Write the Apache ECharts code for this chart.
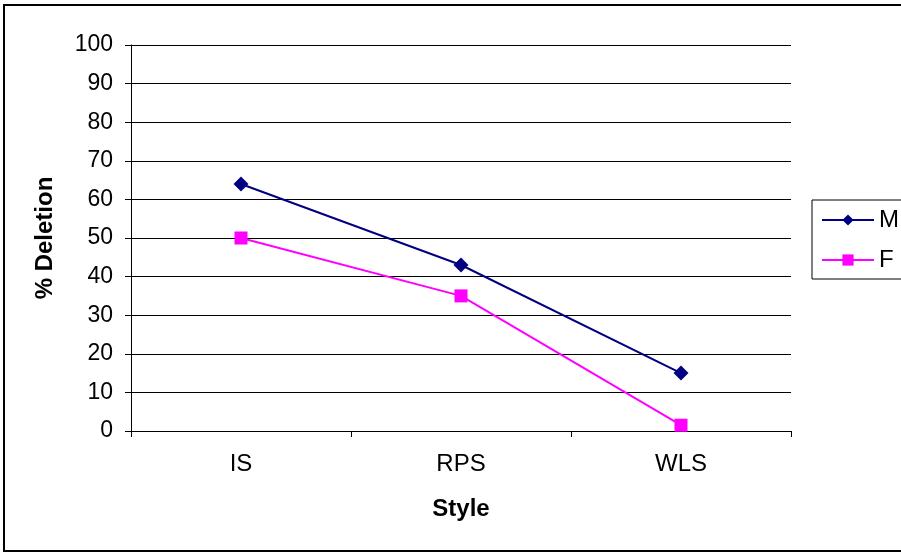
<!DOCTYPE html>
<html>
<head>
<meta charset="utf-8">
<style>
  html, body { margin: 0; padding: 0; background: #fff; }
  #chart { width: 901px; height: 555px; }
</style>
<script src="https://cdn.jsdelivr.net/npm/echarts@6/dist/echarts.min.js"></script>
</head>
<body>
<div id="chart"></div>
<script>
// Deletion rate by speaking style, split by sex
const styles = ['IS', 'RPS', 'WLS'];
const maleValues = [64, 43, 15];
const femaleValues = [50, 35, 1.5];
const yTicks = [0, 10, 20, 30, 40, 50, 60, 70, 80, 90, 100];

const FONT = '"Liberation Sans", Arial, sans-serif';

const chart = echarts.init(document.getElementById('chart'), null, { renderer: 'canvas' });

chart.setOption({
  animation: false,
  backgroundColor: '#fff',
  textStyle: { fontFamily: FONT },
  graphic: [{
    type: 'rect',
    shape: { x: 4, y: 5, width: 910, height: 546 },
    style: { fill: 'none', stroke: '#000', lineWidth: 2 },
    silent: true
  }],
  grid: { left: 131, top: 45, width: 660, height: 386 },
  legend: {
    orient: 'vertical',
    left: 812,
    top: 200,
    padding: [8, 40, 7, 9],
    borderColor: '#000',
    borderWidth: 1,
    itemWidth: 52,
    itemHeight: 14,
    itemGap: 16,
    textStyle: { fontFamily: FONT, fontSize: 24, color: '#000' },
    data: ['M', 'F']
  },
  xAxis: {
    type: 'category',
    data: styles,
    boundaryGap: true,
    name: 'Style',
    nameLocation: 'middle',
    nameGap: 66,
    nameTextStyle: { fontFamily: FONT, fontSize: 24, fontWeight: 'bold', color: '#000' },
    axisLine: { lineStyle: { color: '#000', width: 1 } },
    axisTick: { show: true, length: 6, lineStyle: { color: '#000' } },
    axisLabel: { fontFamily: FONT, fontSize: 24, color: '#000', margin: 21 },
    splitLine: { show: false }
  },
  yAxis: {
    type: 'value',
    min: 0,
    max: 100,
    interval: 10,
    name: '% Deletion',
    nameLocation: 'middle',
    nameGap: 74,
    nameRotate: 90,
    nameTextStyle: { fontFamily: FONT, fontSize: 24, fontWeight: 'bold', color: '#000' },
    axisLine: { show: true, lineStyle: { color: '#000', width: 1 } },
    axisTick: { show: true, length: 6, lineStyle: { color: '#000' } },
    axisLabel: {
      fontFamily: FONT, fontSize: 23, color: '#000', margin: 18,
      formatter: v => (yTicks.includes(v) ? String(v) : '')
    },
    splitLine: { show: true, lineStyle: { color: '#000', width: 1 } }
  },
  series: [
    {
      name: 'M',
      type: 'line',
      data: maleValues,
      symbol: 'diamond',
      symbolSize: 15,
      color: '#000080',
      lineStyle: { color: '#000080', width: 2 },
      itemStyle: { color: '#000080' }
    },
    {
      name: 'F',
      type: 'line',
      data: femaleValues,
      symbol: 'rect',
      symbolSize: 13,
      color: '#FF00FF',
      lineStyle: { color: '#FF00FF', width: 2 },
      itemStyle: { color: '#FF00FF' }
    }
  ]
});
</script>
</body>
</html>
